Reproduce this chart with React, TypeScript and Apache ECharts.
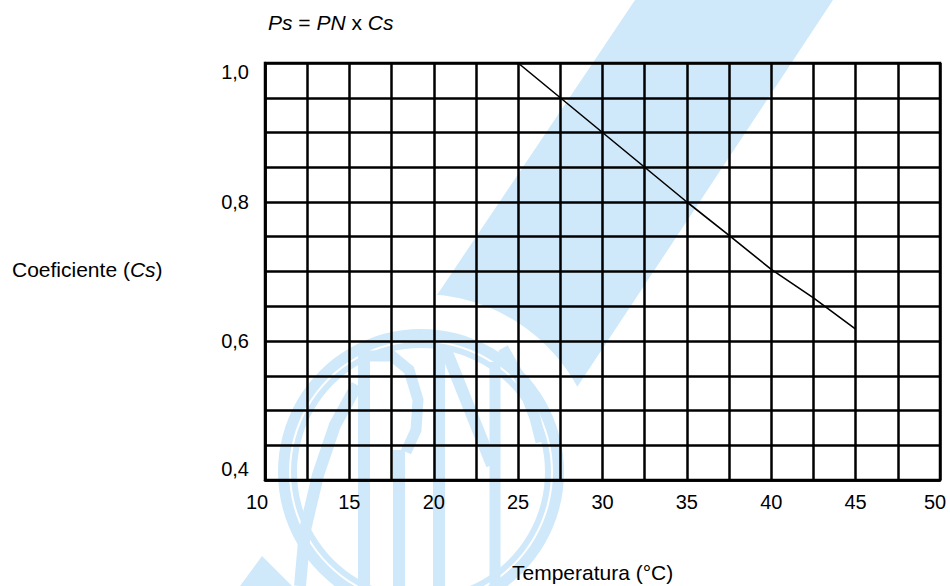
import React, { useEffect, useRef } from "react";
import * as echarts from "echarts";

// Data
const temperatures = [25, 27.5, 30, 32.5, 35, 37.5, 40, 42.5, 45];
const coefficients = [1.0, 0.95, 0.9, 0.85, 0.8, 0.752, 0.703, 0.662, 0.617];
const xTickLabels = ["10", "15", "20", "25", "30", "35", "40", "45", "50"];
const yTickLabels = ["0,4", "0,6", "0,8", "1,0"];

const FONT = "Liberation Sans";
const WM = "#cfe9fb";
const TICK_FS = 20;

export default function App() {
  const ref = useRef<HTMLDivElement>(null);
  useEffect(() => {
    if (!ref.current) return;
    const chart = echarts.init(ref.current, undefined, { renderer: "svg" });

    // watermark geometry (ABNT logo, approximated)
    const cx = 421, cy = 472, gapR = 178;
    const arcPts: number[][] = [];
    const a0 = Math.atan2(387 - cy, 577 - cx);
    const a1 = Math.atan2(295 - cy, 437 - cx);
    for (let i = 0; i <= 24; i++) {
      const a = a0 + ((a1 - a0) * i) / 24;
      arcPts.push([cx + gapR * Math.cos(a), cy + gapR * Math.sin(a)]);
    }
    const stripe = [[635, 0], [833, 0], ...arcPts, [437, 295]];
    const wmLine = (pts: number[][], w: number) => ({
      type: "polyline",
      z: -10,
      silent: true,
      shape: { points: pts },
      style: { stroke: WM, lineWidth: w, fill: null },
    });

    const data = temperatures.map((t, i) => [t, coefficients[i]]);
    const xData = xTickLabels.map(Number);
    const yData = yTickLabels.map((s) => Number(s.replace(",", ".")));

    chart.setOption({
      animation: false,
      title: [
        {
          text: "{i|Ps} = {i|PN} x {i|Cs}",
          left: 268,
          top: 12,
          padding: 0,
          textStyle: {
            fontFamily: FONT,
            fontSize: 21,
            fontWeight: "normal",
            color: "#000",
            rich: {
              i: { fontStyle: "italic", fontFamily: FONT, fontSize: 21, color: "#000" },
            },
          },
        },
        {
          text: "Coeficiente ({i|Cs})",
          left: 12,
          top: 259,
          padding: 0,
          textStyle: {
            fontFamily: FONT,
            fontSize: 21,
            fontWeight: "normal",
            color: "#000",
            rich: {
              i: { fontStyle: "italic", fontFamily: FONT, fontSize: 21, color: "#000" },
            },
          },
        },
        {
          text: "Temperatura (°C)",
          left: 512,
          top: 562,
          padding: 0,
          textStyle: { fontFamily: FONT, fontSize: 21, fontWeight: "normal", color: "#000" },
        },
      ],
      graphic: {
        elements: [
          { type: "polygon", z: -10, silent: true, shape: { points: stripe }, style: { fill: WM } },
          {
            type: "polygon",
            z: -10,
            silent: true,
            shape: { points: [[240, 586], [262, 556], [292, 586]] },
            style: { fill: WM },
          },
          { type: "ring", z: -10, silent: true, shape: { cx, cy, r: 143, r0: 132 }, style: { fill: WM } },
          { type: "ring", z: -10, silent: true, shape: { cx, cy, r: 130, r0: 124 }, style: { fill: WM } },
          wmLine([[300, 586], [305, 530], [318, 475], [335, 425], [357, 385]], 12),
          wmLine([[364, 350], [364, 586]], 12),
          wmLine([[370, 356], [392, 356], [409, 370], [418, 400], [416, 430], [406, 452]], 11),
          wmLine([[399, 450], [399, 586]], 12),
          wmLine([[439, 348], [439, 586]], 12),
          wmLine([[446, 350], [492, 465]], 12),
          wmLine([[495, 362], [495, 586]], 11),
          wmLine([[503, 348], [520, 378], [535, 418], [541, 442]], 11),
        ],
      },
      grid: {
        left: 265,
        top: 63,
        right: 10,
        bottom: 106,
        show: true,
        borderColor: "#000",
        borderWidth: 2.5,
        backgroundColor: "transparent",
      },
      xAxis: {
        type: "value",
        min: xData[0],
        max: xData[xData.length - 1],
        interval: 2.5,
        axisLine: { show: true, lineStyle: { color: "#000", width: 2.5 } },
        axisTick: { show: false },
        splitLine: { show: true, lineStyle: { color: "#000", width: 2.5 } },
        axisLabel: {
          margin: 12,
          fontFamily: FONT,
          fontSize: TICK_FS,
          color: "#000",
          showMinLabel: true,
          showMaxLabel: true,
          formatter: (v: number) => {
            const s = String(Math.round(v));
            if (Math.abs(v / 5 - Math.round(v / 5)) > 1e-6) return "";
            if (!xTickLabels.includes(s)) return "";
            if (s === xTickLabels[0]) return "{a|" + s + "}";
            if (s === xTickLabels[xTickLabels.length - 1]) return "{b|" + s + "}";
            return s;
          },
          rich: {
            a: { fontFamily: FONT, fontSize: TICK_FS, color: "#000", padding: [0, 16, 0, 0] },
            b: { fontFamily: FONT, fontSize: TICK_FS, color: "#000", padding: [0, 10, 0, 0] },
          },
        },
      },
      yAxis: {
        type: "value",
        min: yData[0],
        max: yData[yData.length - 1],
        interval: 0.05,
        axisLine: { show: true, lineStyle: { color: "#000", width: 2.5 } },
        axisTick: { show: false },
        splitLine: { show: true, lineStyle: { color: "#000", width: 2.5 } },
        axisLabel: {
          margin: 16,
          fontFamily: FONT,
          fontSize: TICK_FS,
          color: "#000",
          showMinLabel: true,
          showMaxLabel: true,
          formatter: (v: number) => {
            if (Math.abs(v * 5 - Math.round(v * 5)) > 1e-6) return "";
            const s = (Math.round(v * 5) / 5).toFixed(1).replace(".", ",");
            if (!yTickLabels.includes(s)) return "";
            if (s === yTickLabels[yTickLabels.length - 1]) return "{t|" + s + "}";
            if (s === yTickLabels[0]) return "{m|" + s + "}";
            return s;
          },
          rich: {
            t: { fontFamily: FONT, fontSize: TICK_FS, color: "#000", padding: [18, 0, 0, 0] },
            m: { fontFamily: FONT, fontSize: TICK_FS, color: "#000", padding: [0, 0, 22, 0] },
          },
        },
      },
      series: [
        {
          type: "line",
          data,
          symbol: "none",
          lineStyle: { color: "#000", width: 1.6 },
          z: 5,
        },
      ],
    });
    return () => chart.dispose();
  }, []);
  return (
    <div
      ref={ref}
      style={{ position: "fixed", left: 0, top: 0, width: 950, height: 586, background: "#fff" }}
    />
  );
}
